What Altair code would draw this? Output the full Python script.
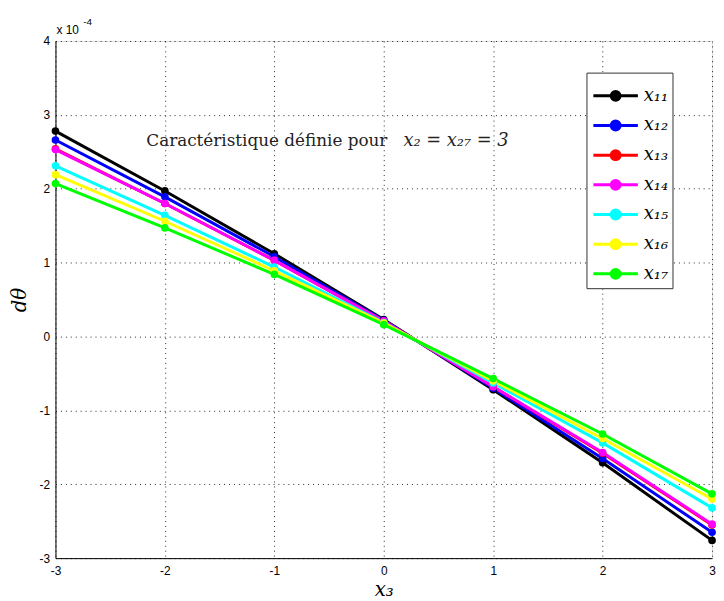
import altair as alt
import pandas as pd

x3 = [-3, -2, -1, 0, 1, 2, 3]
series_names = ["x₁₁", "x₁₂", "x₁₃", "x₁₄", "x₁₅", "x₁₆", "x₁₇"]
series_colors = ["#000000", "#0000ff", "#ff0000", "#ff00ff", "#00ffff", "#ffff00", "#00ff00"]
# values in units of 1e-4
v_x11 = [2.78, 1.97, 1.12, 0.23, -0.72, -1.71, -2.76]
v_x12 = [2.66, 1.89, 1.08, 0.22, -0.70, -1.65, -2.65]
v_x13 = [2.54, 1.80, 1.03, 0.21, -0.68, -1.58, -2.55]
v_x14 = [2.53, 1.80, 1.03, 0.21, -0.68, -1.57, -2.54]
v_x15 = [2.31, 1.64, 0.94, 0.19, -0.63, -1.44, -2.32]
v_x16 = [2.19, 1.56, 0.89, 0.18, -0.60, -1.38, -2.20]
v_x17 = [2.07, 1.47, 0.84, 0.16, -0.57, -1.32, -2.13]
all_vals = [v_x11, v_x12, v_x13, v_x14, v_x15, v_x16, v_x17]
y_ticks = [-3, -2, -1, 0, 1, 2, 3, 4]

annot_text = ["Caractéristique définie pour"]
annot_math = ["x₂ = x₂₇ = 3"]
annot_x = [-2.17]
annot_math_x = [0.18]
annot_y = [2.65]

rows = []
for i, (name, vals) in enumerate(zip(series_names, all_vals)):
    for xv, yv in zip(x3, vals):
        rows.append({"x3": xv, "d": yv, "serie": name, "order": i})
df = pd.DataFrame(rows)

xscale = alt.Scale(domain=[-3, 3], nice=False)
yscale = alt.Scale(domain=[-3, 4], nice=False)
cscale = alt.Scale(domain=series_names, range=series_colors)

legend_path = "M-1.25,0H1.25M0.25,0A0.25,0.25,0,1,1,-0.25,0A0.25,0.25,0,1,1,0.25,0Z"

axis_common = dict(grid=True, ticks=False,
                   labelFont="Liberation Sans", labelFontSize=12, labelColor="#000",
                   labelExpr="'' + datum.value",
                   titleFont="DejaVu Serif", titleFontStyle="italic",
                   titleFontWeight="normal", titleColor="#000",
                   domainColor="#000",
                   gridColor="#000", gridDash=[1, 4], gridOpacity=0.85,
                   labelFlush=False)

base = alt.Chart(df).encode(
    x=alt.X("x3:Q", scale=xscale,
            axis=alt.Axis(values=x3, title="x₃", titleFontSize=20, titlePadding=3,
                          labelPadding=8, **axis_common)),
    y=alt.Y("d:Q", scale=yscale,
            axis=alt.Axis(values=y_ticks, title="dθ", titleFontSize=20, titlePadding=10,
                          labelPadding=6, **axis_common)),
    color=alt.Color("serie:N", scale=cscale, sort=series_names,
                    legend=alt.Legend(title=None, orient="none", legendX=537, legendY=32,
                                      symbolType=legend_path, symbolSize=1296,
                                      symbolStrokeWidth=3, strokeColor="#333",
                                      fillColor="#fff", padding=4, symbolOffset=6,
                                      labelFont="DejaVu Serif", labelFontStyle="italic",
                                      labelFontSize=18, labelColor="#000",
                                      rowPadding=0, labelOffset=9)),
    order=alt.Order("order:Q"),
    detail="serie:N",
)

lines = base.mark_line(strokeWidth=3)
points = base.mark_point(filled=True, size=60, opacity=1)

annot_df = pd.DataFrame({"t": annot_text, "m": annot_math, "x": annot_x, "mx": annot_math_x, "y": annot_y})
annot1 = alt.Chart(annot_df).mark_text(align="left", baseline="middle", font="DejaVu Serif",
                                       fontSize=17, color="#222").encode(
    x=alt.X("x:Q", scale=xscale), y=alt.Y("y:Q", scale=yscale), text="t:N")
annot2 = alt.Chart(annot_df).mark_text(align="left", baseline="middle", font="DejaVu Serif",
                                       fontSize=18, fontStyle="italic", color="#222").encode(
    x=alt.X("mx:Q", scale=xscale), y=alt.Y("y:Q", scale=yscale), text="m:N")

exp_df = pd.DataFrame({"t": ["x 10"], "s": ["-4"]})
exp1 = alt.Chart(exp_df).mark_text(align="left", baseline="middle", font="Liberation Sans",
                                   fontSize=12, color="#000").encode(
    x=alt.value(1), y=alt.value(-11), text="t:N")
exp2 = alt.Chart(exp_df).mark_text(align="left", baseline="middle", font="Liberation Sans",
                                   fontSize=10, color="#000").encode(
    x=alt.value(28), y=alt.value(-19), text="s:N")

chart = alt.layer(lines, points, annot1, annot2, exp1, exp2).properties(
    width=664, height=523,
    autosize=alt.AutoSizeParams(type="none"),
    padding={"left": 48, "top": 30, "right": 4, "bottom": 40},
).configure_view(stroke="#000", strokeWidth=1).configure(background="white")

chart.save("out.html", embed_options={"renderer": "svg", "actions": False})
